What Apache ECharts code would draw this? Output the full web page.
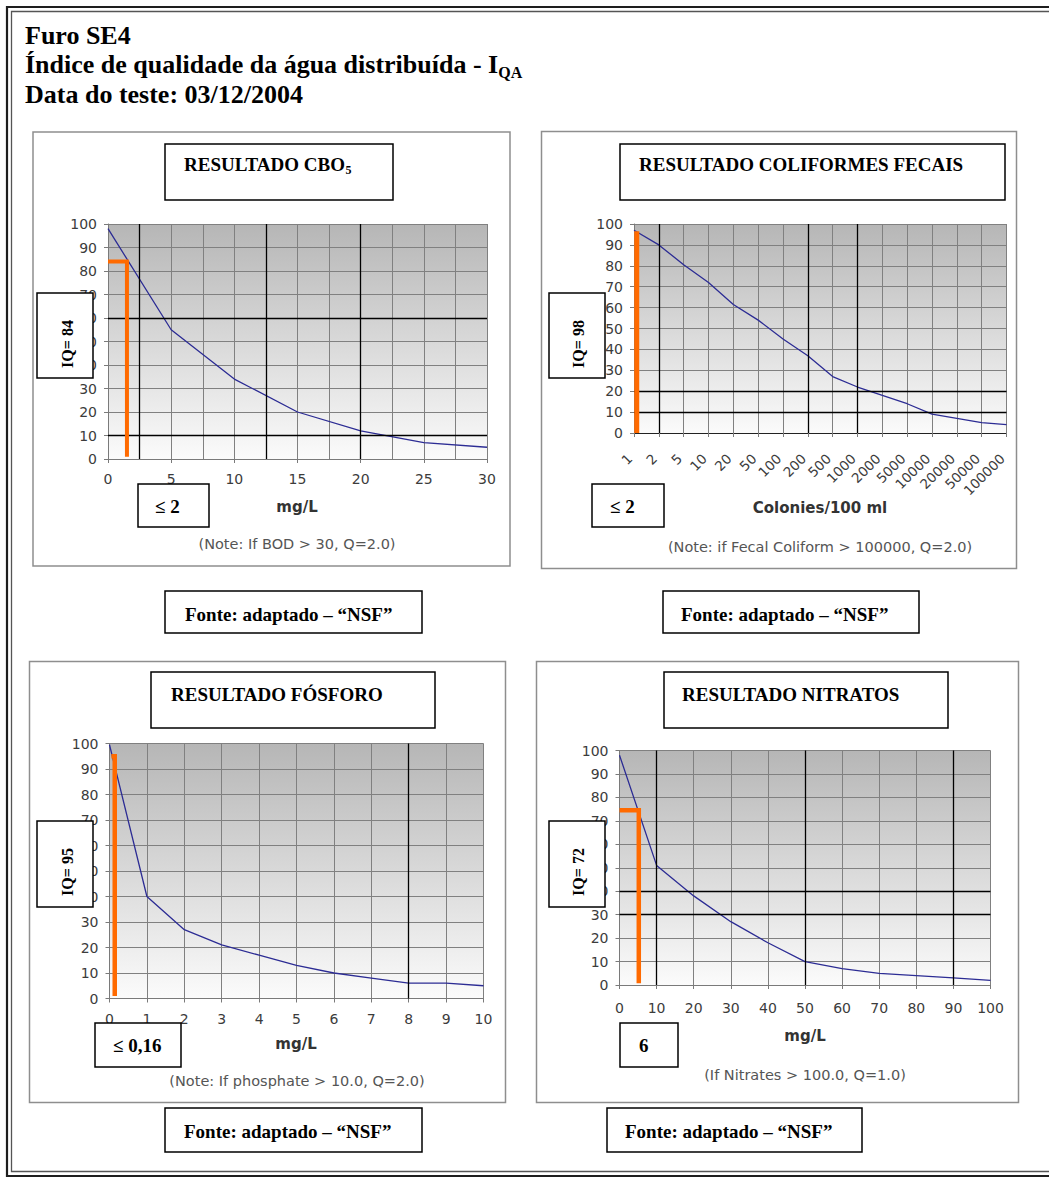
<!DOCTYPE html>
<html>
<head>
<meta charset="utf-8">
<script src="https://cdn.jsdelivr.net/npm/echarts@6/dist/echarts.min.js"></script>
<style>
html,body{margin:0;padding:0;background:#fff;}
#c{width:1049px;height:1178px;}
</style>
</head>
<body>
<div id="c"></div>
<script>
// ---------------- DATA ----------------
// CBO5 (BOD) curve
const cboX = [0, 5, 10, 15, 20, 25, 30];
const cboQ = [98, 55, 34, 20, 12, 7, 5];
const cboMarkX = [0, 1.5, 1.5];
const cboMarkQ = [84, 84, 1];
const cboDarkX = [2.5, 12.5, 20];
const cboDarkY = [10, 60];

// Fecal coliforms curve (categories on a log-like scale)
const colCategories = ['1','2','5','10','20','50','100','200','500','1000','2000','5000','10000','20000','50000','100000'];
const colQ = [97, 90, 80.5, 72, 61.5, 54, 45, 37, 27, 22, 18, 14, 9, 7, 5, 4];
const colMarkPos = [0.11, 0.11];
const colMarkQ = [96.5, 0];
const colDarkX = [1, 7, 9];
const colDarkY = [10, 20];

// Phosphorus curve
const fosX = [0, 1, 2, 3, 4, 5, 6, 7, 8, 9, 10];
const fosQ = [99.5, 40, 27, 21, 17, 13, 10, 8, 6, 6, 5];
const fosMarkX = [0.05, 0.14, 0.14];
const fosMarkQ = [95, 95, 1];
const fosDarkX = [8];
const fosDarkY = [];

// Nitrates curve
const nitX = [0, 10, 20, 30, 40, 50, 60, 70, 80, 90, 100];
const nitQ = [98, 51, 38, 27, 18, 10, 7, 5, 4, 3, 2];
const nitMarkX = [0, 5.2, 5.2];
const nitMarkQ = [74.5, 74.5, 0.7];
const nitDarkX = [10, 50, 90];
const nitDarkY = [30, 40];

// Texts
const headerLines = ['Furo SE4', 'Índice de qualidade da água distribuída - I', 'Data do teste: 03/12/2004'];
const headerSub = 'QA';
const titles = ['RESULTADO CBO', 'RESULTADO COLIFORMES FECAIS', 'RESULTADO FÓSFORO', 'RESULTADO NITRATOS'];
const titleSubs = ['5', '', '', ''];
const iqLabels = ['IQ= 84', 'IQ= 98', 'IQ= 95', 'IQ= 72'];
const resultLabels = ['≤ 2', '≤ 2', '≤ 0,16', '6'];
const unitLabels = ['mg/L', 'Colonies/100 ml', 'mg/L', 'mg/L'];
const notes = ['(Note: If BOD > 30, Q=2.0)', '(Note: if Fecal Coliform > 100000, Q=2.0)', '(Note: If phosphate > 10.0, Q=2.0)', '(If Nitrates > 100.0, Q=1.0)'];
const sourceLabel = 'Fonte: adaptado – “NSF”';

// ---------------- LAYOUT / STYLE ----------------
const SERIF = '"Liberation Serif","Times New Roman",serif';
const SANS = '"DejaVu Sans",Verdana,sans-serif';
const GRAY = '#808080';
const AX = '#7a7a7a';
const LBL = '#3c3c3c';
const gridBg = {type:'linear', x:0, y:0, x2:0, y2:1, colorStops:[{offset:0, color:'#b6b6b6'}, {offset:1, color:'#fbfbfb'}]};

const L = [
 {grid:[108,224,379,235], panel:[33,132,477,434], title:[165,144,228,56,184,170], iq:[37,293,56,85,67,344], res:[138,484,71,43,155,506], unit:[297,507], note:[297,544], src:[165,591,257,42,185,620], xm:13},
 {grid:[634,224,372.5,209], panel:[541.5,131.5,475,437], title:[620,144,385,56,639,170], iq:[549,293,56,85,578,344], res:[592,484,72,43,610,506], unit:[820,508], note:[820,547], src:[663,591,256,42,681,620], xm:19},
 {grid:[109.5,743.5,374,255], panel:[29.5,661.5,476,441], title:[151,672,284,56,171,700], iq:[37,821,56,86,67,872], res:[95,1023,86,44,113,1045], unit:[296,1044], note:[297,1081], src:[165,1108,257,44,184,1137], xm:13},
 {grid:[619.5,750.5,371,234.5], panel:[536.5,661.5,482,441], title:[664,672,284,56,682,700], iq:[549,821,56,86,578,872], res:[620,1023,58,44,639,1045], unit:[805,1036], note:[805,1075], src:[607,1108,255,44,625,1137], xm:16}
];

const mctx = document.createElement('canvas').getContext('2d');
function tw(text, size, weight, family){ mctx.font = (weight||'normal') + ' ' + size + 'px ' + family; return mctx.measureText(text).width; }

function gridOf(a){ return {left:a[0], top:a[1], width:a[2], height:a[3], show:true, backgroundColor:gridBg, borderWidth:0, containLabel:false, outerBoundsMode:'none'}; }

function yAx(i){
  return {type:'value', gridIndex:i, min:0, max:100, interval:10,
    axisLine:{show:true, lineStyle:{color:AX}},
    axisTick:{show:true, length:4, lineStyle:{color:AX}},
    axisLabel:{color:LBL, fontFamily:SANS, fontSize:14, margin:11},
    splitLine:{show:true, lineStyle:{color:GRAY, width:1}}};
}
function xAx(i, min, max, interval, extra){
  const o = {type:'value', gridIndex:i, min:min, max:max, interval:interval,
    axisLine:{show:true, onZero:false, lineStyle:{color:AX}},
    axisTick:{show:true, length:4, lineStyle:{color:AX}},
    axisLabel:{color:LBL, fontFamily:SANS, fontSize:14, margin:L[i].xm},
    splitLine:{show:true, lineStyle:{color:GRAY, width:1}}};
  return Object.assign(o, extra||{});
}

function curve(i, xs, ys, darkX, darkY){
  return {type:'line', xAxisIndex:i, yAxisIndex:i, data: xs.map((x,k)=>[x, ys[k]]),
    symbol:'none', lineStyle:{color:'#2c2c94', width:1.3}, z:3,
    markLine:{silent:true, symbol:['none','none'], label:{show:false}, animation:false,
      lineStyle:{color:'#000', width:1.3, type:'solid'},
      data:[...darkX.map(v=>({xAxis:v})), ...darkY.map(v=>({yAxis:v}))]}};
}
function marker(i, xs, ys, w){
  return {type:'line', xAxisIndex:i, yAxisIndex:i, data: xs.map((x,k)=>[x, ys[k]]),
    symbol:'none', lineStyle:{color:'#ff6a00', width:w, cap:'butt', join:'miter'}, z:6};
}

// ---------------- GRAPHIC ELEMENTS ----------------
const els = [];
function rect(x,y,w,h,stroke,lw,fill,z){ els.push({type:'rect', z:z||1, shape:{x:x,y:y,width:w,height:h}, style:{fill:fill||'none', stroke:stroke, lineWidth:lw}, silent:true}); }
function text(x,y,t,size,weight,family,opts){
  const st = Object.assign({text:t, fill:'#000', fontSize:size, fontWeight:weight, fontFamily:family, align:'left', verticalAlign:'middle'}, (opts&&opts.style)||{});
  const e = {type:'text', x:x, y:y, z:(opts&&opts.z)||20, style:st, silent:true};
  if (opts && opts.rotation) e.rotation = opts.rotation;
  els.push(e);
}

// page double border
rect(7, 7, 1080, 1169, '#1e1e1e', 2.2);
rect(11.5, 11.5, 1070, 1160, '#555', 1.3);

// header
const HS = 26;
const hBase = [43, 72, 102];
headerLines.forEach((t,k)=>{ text(25, hBase[k] - 0.305*HS, t, HS, 'bold', SERIF); });
const hw = tw(headerLines[1], HS, 'bold', SERIF);
text(25 + hw, hBase[1] + 5 - 0.305*16, headerSub, 16, 'bold', SERIF);

L.forEach((p,i)=>{
  // panel frame
  rect(p.panel[0], p.panel[1], p.panel[2], p.panel[3], '#8e8e8e', 1.5, 'none', 1);
  // title box
  const t = p.title;
  rect(t[0], t[1], t[2], t[3], '#000', 1.5, '#fff', 2);
  text(t[4], t[5] - 0.305*19, titles[i], 19, 'bold', SERIF);
  if (titleSubs[i]) {
    const w = tw(titles[i], 19, 'bold', SERIF);
    text(t[4] + w + 0.5, t[5] + 4 - 0.305*12, titleSubs[i], 12, 'bold', SERIF);
  }
  // IQ box (covers part of the y labels)
  const q = p.iq;
  rect(q[0], q[1], q[2], q[3], '#000', 1.5, '#fff', 50);
  text(q[4], q[5], iqLabels[i], 16, 'bold', SERIF, {z:51, rotation:Math.PI/2, style:{align:'center'}});
  // result box
  const r = p.res;
  rect(r[0], r[1], r[2], r[3], '#000', 1.5, '#fff', 50);
  text(r[4], r[5], resultLabels[i], 19, 'bold', SERIF, {z:51});
  // unit and note
  text(p.unit[0], p.unit[1], unitLabels[i], 15, 'bold', SANS, {style:{align:'center', fill:'#333'}});
  text(p.note[0], p.note[1], notes[i], 14.5, 'normal', SANS, {style:{align:'center', fill:'#555'}});
  // source box
  const s = p.src;
  rect(s[0], s[1], s[2], s[3], '#000', 1.5, '#fff', 2);
  text(s[4], s[5] - 0.305*19, sourceLabel, 19, 'bold', SERIF);
});

// ---------------- CHART ----------------
const option = {
  animation:false,
  backgroundColor:'#fff',
  grid: L.map(p=>gridOf(p.grid)),
  xAxis: [
    xAx(0, 0, 30, 5, {minorTick:{show:false, splitNumber:2}, minorSplitLine:{show:true, lineStyle:{color:GRAY, width:1}}}),
    (function(){ const a = xAx(1, 0, colCategories.length-1, 1);
      a.axisLine.lineStyle.color = '#222';
      a.axisLabel.rotate = 45; a.axisLabel.padding = [0,6,0,0]; a.axisLabel.fontSize = 13.5;
      a.axisLabel.formatter = v => colCategories[Math.round(v)] || '';
      return a; })(),
    xAx(2, 0, 10, 1),
    xAx(3, 0, 100, 10)
  ],
  yAxis: [yAx(0), yAx(1), yAx(2), yAx(3)],
  series: [
    curve(0, cboX, cboQ, cboDarkX, cboDarkY),
    marker(0, cboMarkX, cboMarkQ, 4),
    curve(1, colQ.map((q,k)=>k), colQ, colDarkX, colDarkY),
    marker(1, colMarkPos, colMarkQ, 5),
    curve(2, fosX, fosQ, fosDarkX, fosDarkY),
    marker(2, fosMarkX, fosMarkQ, 4.5),
    curve(3, nitX, nitQ, nitDarkX, nitDarkY),
    marker(3, nitMarkX, nitMarkQ, 4.5)
  ],
  graphic: {elements: els}
};

const chart = echarts.init(document.getElementById('c'), null, {renderer:'svg', width:1049, height:1178});
chart.setOption(option);
</script>
</body>
</html>
